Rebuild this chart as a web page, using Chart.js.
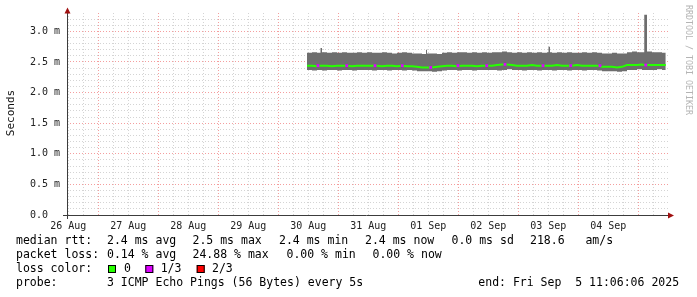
<!DOCTYPE html>
<html>
<head>
<meta charset="utf-8">
<script src="https://cdn.jsdelivr.net/npm/chart.js@4/dist/chart.umd.min.js"></script>
<style>
  html, body { margin: 0; padding: 0; background: #fff; }
</style>
</head>
<body>
<canvas id="smoke" width="697" height="297"></canvas>
<script>
// hours since the graph start (Tue 26 Aug 11:06), one step = 2h, plus a few spike samples
const hours = [
  96, 98, 100, 101.4, 102, 104, 106, 108, 110, 112, 114, 116, 118,
  120, 122, 124, 126, 128, 130, 132, 134, 136, 138, 140, 142, 143.6,
  144, 146, 148, 150, 152, 154, 156, 158, 160, 162, 164, 166,
  168, 170, 172, 174, 176, 178, 180, 182, 184, 186, 188, 190,
  192, 192.6, 193.2, 194, 196, 198, 200, 202, 204, 206, 208, 210, 212, 214,
  216, 218, 220, 222, 224, 226, 228, 230, 230.9, 232, 234, 236, 238, 239.5
];
// smoke band (ms): fastest and slowest ping of each step
const smokeLow = [
  2.37, 2.36, 2.37, 2.37, 2.36, 2.37, 2.37, 2.36, 2.37, 2.37, 2.36, 2.37, 2.37,
  2.37, 2.36, 2.37, 2.37, 2.36, 2.37, 2.37, 2.36, 2.37, 2.36, 2.35, 2.35, 2.35,
  2.35, 2.34, 2.35, 2.36, 2.37, 2.37, 2.36, 2.37, 2.37, 2.36, 2.37, 2.37,
  2.37, 2.37, 2.36, 2.37, 2.38, 2.37, 2.37, 2.36, 2.37, 2.37, 2.36, 2.37,
  2.37, 2.37, 2.37, 2.36, 2.37, 2.37, 2.36, 2.37, 2.37, 2.36, 2.37, 2.37, 2.36, 2.35,
  2.35, 2.35, 2.34, 2.35, 2.37, 2.37, 2.38, 2.37, 2.37, 2.37, 2.37, 2.38, 2.37, 2.37
];
const smokeHigh = [
  2.65, 2.66, 2.65, 2.73, 2.66, 2.65, 2.66, 2.65, 2.66, 2.65, 2.65, 2.66, 2.65,
  2.66, 2.65, 2.65, 2.66, 2.65, 2.64, 2.65, 2.66, 2.65, 2.64, 2.64, 2.63, 2.70,
  2.64, 2.64, 2.63, 2.65, 2.66, 2.65, 2.66, 2.66, 2.65, 2.66, 2.65, 2.66,
  2.65, 2.66, 2.66, 2.67, 2.66, 2.65, 2.66, 2.65, 2.66, 2.65, 2.66, 2.65,
  2.66, 2.75, 2.66, 2.65, 2.66, 2.65, 2.66, 2.65, 2.65, 2.66, 2.65, 2.66, 2.65, 2.64,
  2.64, 2.65, 2.64, 2.64, 2.66, 2.67, 2.66, 2.66, 3.27, 2.67, 2.66, 2.66, 2.65, 2.65
];
const medianRtt = [
  2.44, 2.44, 2.43, 2.44, 2.44, 2.44, 2.43, 2.44, 2.44, 2.44, 2.43, 2.44, 2.44,
  2.44, 2.44, 2.44, 2.43, 2.44, 2.44, 2.43, 2.44, 2.43, 2.43, 2.42, 2.41, 2.41,
  2.41, 2.41, 2.42, 2.43, 2.44, 2.44, 2.43, 2.44, 2.44, 2.44, 2.43, 2.44,
  2.44, 2.44, 2.45, 2.46, 2.46, 2.45, 2.44, 2.44, 2.44, 2.45, 2.44, 2.44,
  2.44, 2.44, 2.44, 2.44, 2.45, 2.44, 2.44, 2.44, 2.45, 2.44, 2.44, 2.44, 2.44, 2.42,
  2.42, 2.42, 2.41, 2.42, 2.45, 2.45, 2.45, 2.46, 2.45, 2.45, 2.45, 2.45, 2.45, 2.45
];
// steps with 1/3 packet loss
const lossHours = [100.4, 111.9, 123.2, 134.1, 145.5, 156.4, 167.9, 175.2, 190.4, 201.5, 213.2, 231.5];
const lossRtt   = [2.44, 2.44, 2.44, 2.44, 2.41, 2.44, 2.44, 2.46, 2.44, 2.44, 2.44, 2.45];

// axis ticks
const dayLabelHours = [0.5, 24.5, 48.5, 72.5, 96.5, 120.5, 144.5, 168.5, 192.5, 216.5];
const dayLabels = ['26 Aug', '27 Aug', '28 Aug', '29 Aug', '30 Aug', '31 Aug', '01 Sep', '02 Sep', '03 Sep', '04 Sep'];
const yLabelValues = [0, 0.5, 1, 1.5, 2, 2.5, 3];
const yLabels = ['0.0  ', '0.5 m', '1.0 m', '1.5 m', '2.0 m', '2.5 m', '3.0 m'];

const legendRows = [
  [241.5, [[16, 'median rtt:'], [107, '2.4 ms avg'], [192.5, '2.5 ms max'], [279, '2.4 ms min'],
           [365, '2.4 ms now'], [451.5, '0.0 ms sd'], [530, '218.6   am/s']]],
  [255.3, [[16, 'packet loss:'], [107, '0.14 % avg'], [192.5, '24.88 % max'], [286.5, '0.00 % min'],
           [372.5, '0.00 % now']]],
  [269, [[16, 'loss color:'], [124, '0'], [160.7, '1/3'], [212, '2/3']]],
  [282.7, [[16, 'probe:'], [107, '3 ICMP Echo Pings (56 Bytes) every 5s'], [478.3, 'end: Fri Sep  5 11:06:06 2025']]]
];
const lossBoxes = [[108, '#26ff00'], [145.3, '#dd00ff'], [196.7, '#ff0000']];

const GREEN = '#26ff00', MAGENTA = '#dd00ff', SMOKE = '#6e6e6e';
const GRID = 'rgba(160,160,160,0.45)', MGRID = 'rgba(230,40,40,0.45)';
const MONO = '"DejaVu Sans Mono", monospace';

const pts = arr => hours.map((h, i) => ({ x: h, y: arr[i] }));

// minor grid every 6h (offset so midnights line up), 0.1 ms vertically
const xGrid = [];
for (let h = 0.5; h < 240.4; h += 6) xGrid.push(h);
const yGrid = [];
for (let k = 0; k <= 32; k++) yGrid.push(k / 10);

const isMidnight = v => Math.abs((v - 12.5) % 24) < 0.01;
const isLabelled = v => yLabelValues.some(y => Math.abs(y - v) < 0.001);

const rrdDecor = {
  id: 'rrdDecor',
  afterDraw(chart) {
    const ctx = chart.ctx;
    const a = chart.chartArea;
    ctx.save();
    ctx.setLineDash([]);
    // axes
    ctx.strokeStyle = '#3c3c3c';
    ctx.lineWidth = 1;
    ctx.beginPath();
    ctx.moveTo(63, a.bottom + 0.5); ctx.lineTo(670, a.bottom + 0.5);
    ctx.moveTo(a.left + 0.5, a.bottom + 4); ctx.lineTo(a.left + 0.5, 11);
    ctx.stroke();
    ctx.fillStyle = '#a01010';
    ctx.beginPath();
    ctx.moveTo(a.left - 2.5, 13.5); ctx.lineTo(a.left + 3.5, 13.5); ctx.lineTo(a.left + 0.5, 7.5);
    ctx.closePath(); ctx.fill();
    ctx.beginPath();
    ctx.moveTo(668, a.bottom - 2.5); ctx.lineTo(668, a.bottom + 3.5); ctx.lineTo(674, a.bottom + 0.5);
    ctx.closePath(); ctx.fill();

    // vertical title
    ctx.fillStyle = '#111';
    ctx.font = '11px ' + MONO;
    ctx.textAlign = 'center';
    ctx.textBaseline = 'middle';
    ctx.save();
    ctx.translate(11, 113);
    ctx.rotate(-Math.PI / 2);
    ctx.fillText('Seconds', 0, 0);
    ctx.restore();

    // watermark
    ctx.save();
    ctx.fillStyle = '#b4b4b4';
    ctx.font = '8.3px ' + MONO;
    ctx.translate(688, 60);
    ctx.rotate(Math.PI / 2);
    ctx.fillText('RRDTOOL / TOBI OETIKER', 0, 0);
    ctx.restore();

    // legend
    ctx.fillStyle = '#000';
    ctx.font = '11.5px ' + MONO;
    ctx.textAlign = 'left';
    legendRows.forEach(([y, items]) => {
      items.forEach(([x, s]) => ctx.fillText(s, x, y));
    });
    lossBoxes.forEach(([x, c]) => {
      ctx.fillStyle = c;
      ctx.fillRect(x, 265, 8, 8);
      ctx.strokeStyle = '#000';
      ctx.strokeRect(x + 0.5, 265.5, 7, 7);
    });
    ctx.restore();
  }
};

new Chart(document.getElementById('smoke'), {
  type: 'line',
  data: {
    datasets: [
      {
        label: 'low', data: pts(smokeLow), stepped: true, order: 4,
        borderColor: 'rgba(0,0,0,0)', borderWidth: 1, pointRadius: 0, fill: false
      },
      {
        label: 'high', data: pts(smokeHigh), stepped: true, order: 3,
        borderColor: 'rgba(0,0,0,0)', borderWidth: 1, pointRadius: 0,
        fill: '-1', backgroundColor: SMOKE
      },
      {
        label: 'median', data: pts(medianRtt), stepped: false, order: 2,
        borderColor: GREEN, borderWidth: 2, borderDash: [], borderCapStyle: 'butt',
        pointRadius: 0, fill: false
      },
      {
        label: 'loss', data: lossHours.map((h, i) => ({ x: h, y: lossRtt[i] })), order: 1,
        showLine: false, pointStyle: 'rect', pointRadius: 2, pointBorderWidth: 0,
        pointBackgroundColor: MAGENTA, borderColor: MAGENTA
      }
    ]
  },
  options: {
    responsive: false,
    devicePixelRatio: 1,
    animation: false,
    events: [],
    layout: { padding: { left: 0, right: 29, top: 13, bottom: 0 } },
    plugins: { legend: { display: false }, tooltip: { enabled: false } },
    scales: {
      x: {
        type: 'linear', min: 0, max: 240.4, offset: false,
        afterFit: s => { s.height = 82; },
        afterBuildTicks: s => { s.ticks = xGrid.map(v => ({ value: v })); },
        grid: {
          drawTicks: false, lineWidth: 1,
          color: c => (isMidnight(c.tick.value) ? MGRID : GRID)
        },
        border: { display: false, dash: [1, 2] },
        ticks: {
          autoSkip: false, maxRotation: 0, padding: 5, color: '#222',
          font: { family: MONO, size: 10 },
          callback: v => {
            const i = dayLabelHours.findIndex(h => Math.abs(h - v) < 0.01);
            return i >= 0 ? dayLabels[i] : '';
          }
        }
      },
      y: {
        min: 0, max: 3.3,
        afterFit: s => { s.width = 67; },
        afterBuildTicks: s => { s.ticks = yGrid.map(v => ({ value: v })); },
        grid: {
          drawTicks: false, lineWidth: 1,
          color: c => (isLabelled(c.tick.value) ? MGRID : GRID)
        },
        border: { display: false, dash: [1, 2] },
        ticks: {
          autoSkip: false, padding: 7, color: '#222',
          font: { family: MONO, size: 10 },
          callback: v => {
            const i = yLabelValues.findIndex(y => Math.abs(y - v) < 0.001);
            return i >= 0 ? yLabels[i] : '';
          }
        }
      }
    }
  },
  plugins: [rrdDecor]
});
</script>
</body>
</html>
